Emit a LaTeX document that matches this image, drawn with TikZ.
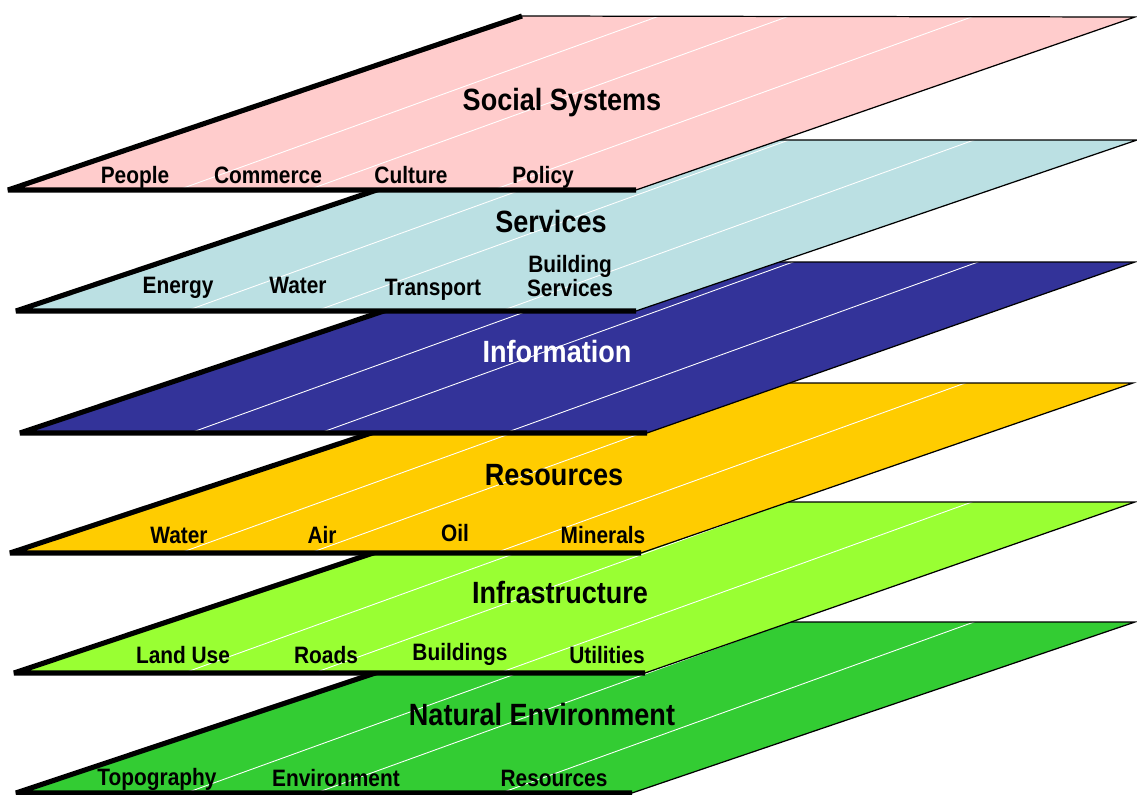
\documentclass[tikz,border=0pt]{standalone}
\usepackage{fontspec}
\newfontfamily\narrowsans{Liberation Sans}[FakeStretch=0.88]
\usetikzlibrary{calc}

\definecolor{socialpink}{HTML}{FFCCCC}
\definecolor{servicecyan}{HTML}{BBE0E3}
\definecolor{infoblue}{HTML}{333399}
\definecolor{resourceyellow}{HTML}{FFCC00}
\definecolor{infragreen}{HTML}{99FF33}
\definecolor{naturegreen}{HTML}{33CC33}

\tikzset{
    layertitle/.style={anchor=base, inner sep=0pt, font=\narrowsans\bfseries\fontsize{17.5}{20}\selectfont},
    layeritem/.style={anchor=base, inner sep=0pt, font=\narrowsans\bfseries\fontsize{13.5}{12}\selectfont},
    rim/.style={draw=black, line width=0.7pt, line join=miter},
    thickrim/.style={draw=black, line width=2.9pt, line join=bevel},
    hatch/.style={draw=white, line width=0.5pt}
}

\begin{document}
\begin{tikzpicture}[x=0.02cm, y=-0.02cm]
            \useasboundingbox (0,0) rectangle (1137,795);

            % natural environment
            \coordinate (n1) at (16,793);
            \coordinate (n2) at (632,793);
            \coordinate (n3) at (1135,622);
            \coordinate (n4) at (528,622);
            \path[fill=naturegreen] (n1) -- (n2) -- (n3) -- (n4) -- cycle;
            \begin{scope}
                \clip (n1) -- (n2) -- (n3) -- (n4) -- cycle;
                \foreach \dx in {170,300,485}
                    \path[hatch] ($(n1)+(\dx,0)$) -- ++(520,-188);
            \end{scope}
            \path[rim] (n4) -- (n3) -- (n2);
            \path[thickrim] (n2) -- (n1) -- (n4);

            % infrastructure
            \coordinate (f1) at (14,673);
            \coordinate (f2) at (645,673);
            \coordinate (f3) at (1135,502);
            \coordinate (f4) at (526,502);
            \path[fill=infragreen] (f1) -- (f2) -- (f3) -- (f4) -- cycle;
            \begin{scope}
                \clip (f1) -- (f2) -- (f3) -- (f4) -- cycle;
                \foreach \dx in {170,300,485}
                    \path[hatch] ($(f1)+(\dx,0)$) -- ++(520,-188);
            \end{scope}
            \path[rim] (f4) -- (f3) -- (f2);
            \path[thickrim] (f2) -- (f1) -- (f4);

            % resources
            \coordinate (r1) at (10,553);
            \coordinate (r2) at (641,553);
            \coordinate (r3) at (1133,383);
            \coordinate (r4) at (522,383);
            \path[fill=resourceyellow] (r1) -- (r2) -- (r3) -- (r4) -- cycle;
            \begin{scope}
                \clip (r1) -- (r2) -- (r3) -- (r4) -- cycle;
                \foreach \dx in {170,300,485}
                    \path[hatch] ($(r1)+(\dx,0)$) -- ++(520,-188);
            \end{scope}
            \path[rim] (r4) -- (r3) -- (r2);
            \path[thickrim] (r2) -- (r1) -- (r4);

            % information
            \coordinate (i1) at (20,433);
            \coordinate (i2) at (647,433);
            \coordinate (i3) at (1135,262);
            \coordinate (i4) at (530,262);
            \path[fill=infoblue] (i1) -- (i2) -- (i3) -- (i4) -- cycle;
            \begin{scope}
                \clip (i1) -- (i2) -- (i3) -- (i4) -- cycle;
                \foreach \dx in {170,300,485}
                    \path[hatch] ($(i1)+(\dx,0)$) -- ++(520,-188);
            \end{scope}
            \path[rim] (i4) -- (i3) -- (i2);
            \path[thickrim] (i2) -- (i1) -- (i4);

            % services
            \coordinate (v1) at (16,311);
            \coordinate (v2) at (636,311);
            \coordinate (v3) at (1137,140);
            \coordinate (v4) at (526,140);
            \path[fill=servicecyan] (v1) -- (v2) -- (v3) -- (v4) -- cycle;
            \begin{scope}
                \clip (v1) -- (v2) -- (v3) -- (v4) -- cycle;
                \foreach \dx in {170,300,485}
                    \path[hatch] ($(v1)+(\dx,0)$) -- ++(520,-188);
            \end{scope}
            \path[rim] (v4) -- (v3) -- (v2);
            \path[thickrim] (v2) -- (v1) -- (v4);

            % social systems
            \coordinate (s1) at (8,190);
            \coordinate (s2) at (636,190);
            \coordinate (s3) at (1135,17);
            \coordinate (s4) at (522,16);
            \path[fill=socialpink] (s1) -- (s2) -- (s3) -- (s4) -- cycle;
            \begin{scope}
                \clip (s1) -- (s2) -- (s3) -- (s4) -- cycle;
                \foreach \dx in {170,300,485}
                    \path[hatch] ($(s1)+(\dx,0)$) -- ++(520,-188);
            \end{scope}
            \path[rim] (s4) -- (s3) -- (s2);
            \path[thickrim] (s2) -- (s1) -- (s4);

            % labels
            \node[layertitle] (social) at (562,110) {Social Systems};
            \node[layeritem] (people) at (135,183) {People};
            \node[layeritem] (commerce) at (268,183) {Commerce};
            \node[layeritem] (culture) at (411,183) {Culture};
            \node[layeritem] (policy) at (543,183) {Policy};

            \node[layertitle] (services) at (551,232) {Services};
            \node[layeritem] (energy) at (178,293) {Energy};
            \node[layeritem] (water) at (298,293) {Water};
            \node[layeritem] (transport) at (433,295) {Transport};
            \node[layeritem, anchor=north, align=center] (building) at (570,255) {Building\\Services};

            \node[layertitle, text=white] (information) at (557,362) {Information};

            \node[layertitle] (resources) at (554,485) {Resources};
            \node[layeritem] (water2) at (179,543) {Water};
            \node[layeritem] (air) at (322,543) {Air};
            \node[layeritem] (oil) at (455,541) {Oil};
            \node[layeritem] (minerals) at (603,543) {Minerals};

            \node[layertitle] (infra) at (560,603) {Infrastructure};
            \node[layeritem] (landuse) at (183,663) {Land Use};
            \node[layeritem] (roads) at (326,663) {Roads};
            \node[layeritem] (buildings) at (460,660) {Buildings};
            \node[layeritem] (utilities) at (607,663) {Utilities};

            \node[layertitle] (natural) at (542,725) {Natural Environment};
            \node[layeritem] (topography) at (157,785) {Topography};
            \node[layeritem] (environment) at (336,786) {Environment};
            \node[layeritem] (resources2) at (554,786) {Resources};
\end{tikzpicture}
\end{document}
